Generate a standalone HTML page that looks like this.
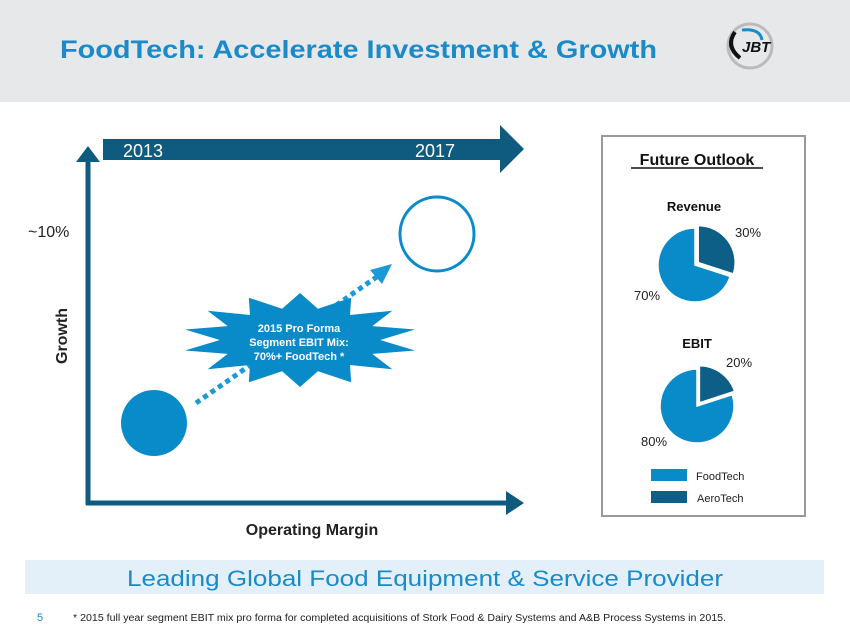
<!DOCTYPE html>
<html><head><meta charset="utf-8"><style>
html,body{margin:0;padding:0;background:#fff;}
svg{display:block;font-family:"Liberation Sans",Arial,sans-serif;}
</style></head><body>
<svg width="850" height="638" viewBox="0 0 850 638" xmlns="http://www.w3.org/2000/svg">
<rect x="0" y="0" width="850" height="102" fill="#e7e8ea"/>
<text x="60" y="58" font-size="25" font-weight="bold" fill="#1a8ac8" textLength="597" lengthAdjust="spacingAndGlyphs">FoodTech:  Accelerate Investment &amp; Growth</text>
<g>
<ellipse cx="750" cy="46" rx="22" ry="22" fill="none" stroke="#bbb" stroke-width="3"/>
<path d="M735 32 Q725 46 740 58" fill="none" stroke="#111" stroke-width="4"/>
<path d="M742 30 Q760 28 762 40" fill="none" stroke="#1a8ac8" stroke-width="3"/>
<text x="742" y="52" font-size="15" font-weight="bold" font-style="italic" fill="#111">JBT</text>
</g>
<line x1="88" y1="158" x2="88" y2="505" stroke="#0e5b7f" stroke-width="5"/>
<polygon points="76,162 100,162 88,146" fill="#0e5b7f"/>
<line x1="86" y1="503" x2="510" y2="503" stroke="#0e5b7f" stroke-width="5"/>
<polygon points="506,491 506,515 524,503" fill="#0e5b7f"/>
<rect x="103" y="139" width="400" height="21" fill="#0e5b7f"/>
<polygon points="500,125 500,173 524,149" fill="#0e5b7f"/>
<text x="123" y="157" font-size="18" fill="#fff">2013</text>
<text x="415" y="157" font-size="18" fill="#fff">2017</text>
<text x="28" y="237" font-size="16" fill="#222">~10%</text>
<text transform="translate(67,336) rotate(-90)" font-size="16" font-weight="bold" fill="#222" text-anchor="middle">Growth</text>
<text x="312" y="535" font-size="16" font-weight="bold" fill="#222" text-anchor="middle">Operating Margin</text>
<circle cx="154" cy="423" r="33" fill="#0a8bc9"/>
<circle cx="437" cy="234" r="37" fill="none" stroke="#0a8bc9" stroke-width="3"/>
<line x1="196" y1="403" x2="378" y2="276" stroke="#1a9ad6" stroke-width="5" stroke-dasharray="5,4"/>
<polygon points="370,270 392,264 382,284" fill="#1a9ad6"/>
<polygon id="star" fill="#0a8bc9" points=""/>
<text x="299" y="332" font-size="11" font-weight="bold" fill="#fff" text-anchor="middle">2015 Pro Forma</text>
<text x="299" y="346" font-size="11" font-weight="bold" fill="#fff" text-anchor="middle">Segment EBIT Mix:</text>
<text x="299" y="360" font-size="11" font-weight="bold" fill="#fff" text-anchor="middle">70%+ FoodTech *</text>
<rect x="602" y="136" width="203" height="380" fill="#fff" stroke="#999" stroke-width="2"/>
<text x="697" y="165" font-size="16" font-weight="bold" fill="#111" text-anchor="middle">Future Outlook</text>
<line x1="631" y1="168" x2="763" y2="168" stroke="#111" stroke-width="1.5"/>
<text x="694" y="211" font-size="13" font-weight="bold" fill="#111" text-anchor="middle">Revenue</text>
<path d="M695,265 L730.2,276.4 A37,37 0 1 1 695,228 Z" fill="#0a8bc9" stroke="#fff" stroke-width="1.5"/>
<path d="M698.2,262.6 L698.2,225.6 A37,37 0 0 1 733.4,274 Z" fill="#0e5f87" stroke="#fff" stroke-width="1.5"/>
<text x="735" y="237" font-size="13" fill="#222">30%</text>
<text x="634" y="300" font-size="13" fill="#222">70%</text>
<text x="697" y="348" font-size="13" font-weight="bold" fill="#111" text-anchor="middle">EBIT</text>
<path d="M697,406 L732.2,394.6 A37,37 0 1 1 697,369 Z" fill="#0a8bc9" stroke="#fff" stroke-width="1.5"/>
<path d="M699.4,402.8 L699.4,365.8 A37,37 0 0 1 734.6,391.4 Z" fill="#0e5f87" stroke="#fff" stroke-width="1.5"/>
<text x="726" y="367" font-size="13" fill="#222">20%</text>
<text x="641" y="446" font-size="13" fill="#222">80%</text>
<rect x="651" y="469" width="36" height="12" fill="#0a8bc9"/>
<rect x="651" y="491" width="36" height="12" fill="#0e5f87"/>
<text x="696" y="480" font-size="11" fill="#222">FoodTech</text>
<text x="697" y="502" font-size="11" fill="#222">AeroTech</text>
<rect x="25" y="560" width="799" height="34" fill="#e3f0f9"/>
<text x="425" y="586" font-size="22" fill="#1a8ac8" text-anchor="middle" textLength="596" lengthAdjust="spacingAndGlyphs">Leading Global Food Equipment &amp; Service Provider</text>
<text x="37" y="621" font-size="11" fill="#1a8ac8">5</text>
<text x="73" y="621" font-size="10" fill="#222" textLength="653" lengthAdjust="spacingAndGlyphs">* 2015 full year segment EBIT mix pro forma for completed acquisitions of Stork Food &amp; Dairy Systems and A&amp;B Process Systems in 2015.</text>
</svg>
<script>
(function(){
var cx=300,cy=340,rx=118,ry=47,n=14,pts=[];
for(var i=0;i<2*n;i++){
 var a=Math.PI*i/n - Math.PI/2;
 var k=(i%2==0)?1:0.68;
 pts.push((cx+rx*k*Math.cos(a)).toFixed(1)+','+(cy+ry*k*Math.sin(a)).toFixed(1));
}
document.getElementById('star').setAttribute('points',pts.join(' '));
})();
</script>
</body></html>
